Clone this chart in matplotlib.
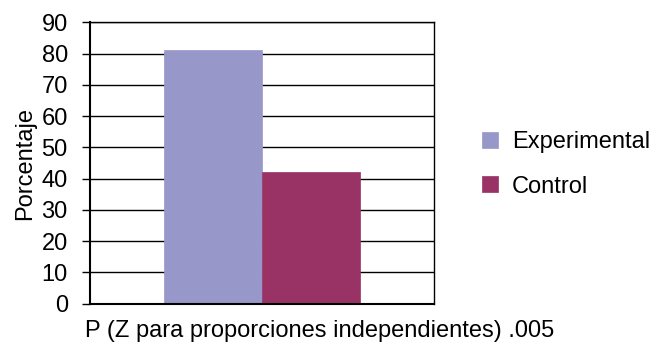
import matplotlib.pyplot as plt

plt.rcParams['font.family'] = ['Liberation Sans', 'DejaVu Sans']

categoria = "P (Z para proporciones independientes) .005"
grupos = ["Experimental", "Control"]
valores = [81, 42]
colores = ["#9897C9", "#993366"]
yticks = [0, 10, 20, 30, 40, 50, 60, 70, 80, 90]

fig = plt.figure(figsize=(6.53, 3.44), dpi=100)
ax = fig.add_axes([0.1378, 0.117, 0.5268, 0.818])

ancho = 0.2835
offsets = [-ancho / 2, ancho / 2]
for nombre, val, col, off in zip(grupos, valores, colores, offsets):
    ax.bar(off, val, width=ancho, color=col, label=nombre, zorder=2,
           edgecolor=col, linewidth=0.5)

ax.set_xlim(-0.5, 0.5)
ax.set_ylim(0, 90)
ax.set_yticks(yticks)
ax.set_xticks([])
ax.tick_params(axis='y', direction='out', length=6, width=1, labelsize=17, pad=10)
ax.yaxis.grid(True, color='black', linewidth=1, zorder=1)
ax.set_axisbelow(True)
for s in ax.spines.values():
    s.set_color('black')
    s.set_linewidth(1)
ax.spines['left'].set_linewidth(1.5)
ax.spines['bottom'].set_linewidth(1.5)
ax.set_ylabel("Porcentaje", fontsize=17, labelpad=4)

# etiqueta de la categoria, alineada a la izquierda bajo el eje
fig.text(85 / 653, 7 / 344, categoria, fontsize=17, ha='left', va='baseline')

ax.legend(loc='center left', bbox_to_anchor=(482 / 653, 0.522),
          bbox_transform=fig.transFigure, frameon=False, borderpad=0,
          borderaxespad=0, fontsize=17, handlelength=0.68, handleheight=0.68,
          handletextpad=0.6, labelspacing=0.95)

fig.savefig("out.png", dpi=100)
